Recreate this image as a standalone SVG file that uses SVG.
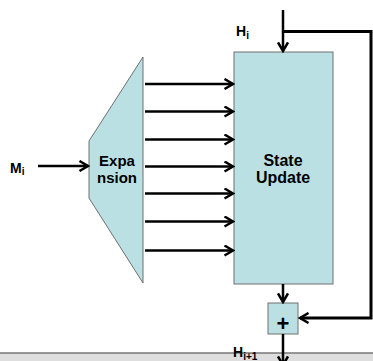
<svg xmlns="http://www.w3.org/2000/svg" width="373" height="361" viewBox="0 0 373 361">
<style>
.box{fill:#bbe0e3;stroke:#707070;stroke-width:1}
.ln{fill:none;stroke:#000;stroke-width:2.5}
.fb{fill:none;stroke:#000;stroke-width:3}
.t{font-family:"Liberation Sans",Arial,sans-serif;font-weight:bold;fill:#000}
</style>
<defs>
<marker id="ah" viewBox="0 0 12 12" refX="10" refY="6" markerWidth="12" markerHeight="12" markerUnits="userSpaceOnUse" orient="auto">
<path d="M1.5,1 L10,6 L1.5,11" fill="none" stroke="#000" stroke-width="2.5"/>
</marker>
</defs>
<rect x="0" y="353" width="373" height="8" fill="#dedede"/>
<line x1="0" y1="353" x2="373" y2="353" stroke="#777" stroke-width="1.5"/>
<g id="expansion">
<path class="box" d="M143,57 L89,141 L89,198 L143,283 Z"/>
<text class="t" x="117" y="165.5" font-size="15" text-anchor="middle">Expa</text>
<text class="t" x="117" y="182.5" font-size="15" text-anchor="middle">nsion</text>
</g>
<g id="state-update">
<rect class="box" x="234" y="52" width="99" height="232"/>
<text class="t" x="283" y="165.5" font-size="16" text-anchor="middle">State</text>
<text class="t" x="283" y="182.5" font-size="16" text-anchor="middle">Update</text>
</g>
<g id="adder">
<rect class="box" x="268" y="303" width="30" height="31"/>
<text class="t" x="283" y="331" font-size="22" text-anchor="middle">+</text>
</g>
<g id="labels">
<text class="t" x="10" y="173" font-size="14">M<tspan font-size="10" dy="2">i</tspan></text>
<text class="t" x="236" y="36" font-size="14">H<tspan font-size="10" dy="3">i</tspan></text>
<text class="t" x="233" y="356.5" font-size="14">H<tspan font-size="10" dy="3.5">i+1</tspan></text>
</g>
<g id="connectors">
<line class="ln" x1="38" y1="166" x2="88" y2="166" marker-end="url(#ah)"/>
<line class="ln" x1="145" y1="84" x2="233" y2="84" marker-end="url(#ah)"/>
<line class="ln" x1="145" y1="111.5" x2="233" y2="111.5" marker-end="url(#ah)"/>
<line class="ln" x1="145" y1="139.5" x2="233" y2="139.5" marker-end="url(#ah)"/>
<line class="ln" x1="145" y1="166.5" x2="233" y2="166.5" marker-end="url(#ah)"/>
<line class="ln" x1="145" y1="193.5" x2="233" y2="193.5" marker-end="url(#ah)"/>
<line class="ln" x1="145" y1="221.5" x2="233" y2="221.5" marker-end="url(#ah)"/>
<line class="ln" x1="145" y1="250.5" x2="233" y2="250.5" marker-end="url(#ah)"/>
<line class="ln" x1="283" y1="10" x2="283" y2="51" marker-end="url(#ah)"/>
<path class="fb" d="M283,31.5 H371 V318 H300" marker-end="url(#ah)"/>
<line class="ln" x1="283" y1="284" x2="283" y2="302" marker-end="url(#ah)"/>
<line class="ln" x1="283" y1="334" x2="283" y2="365" marker-end="url(#ah)"/>
</g>
</svg>
